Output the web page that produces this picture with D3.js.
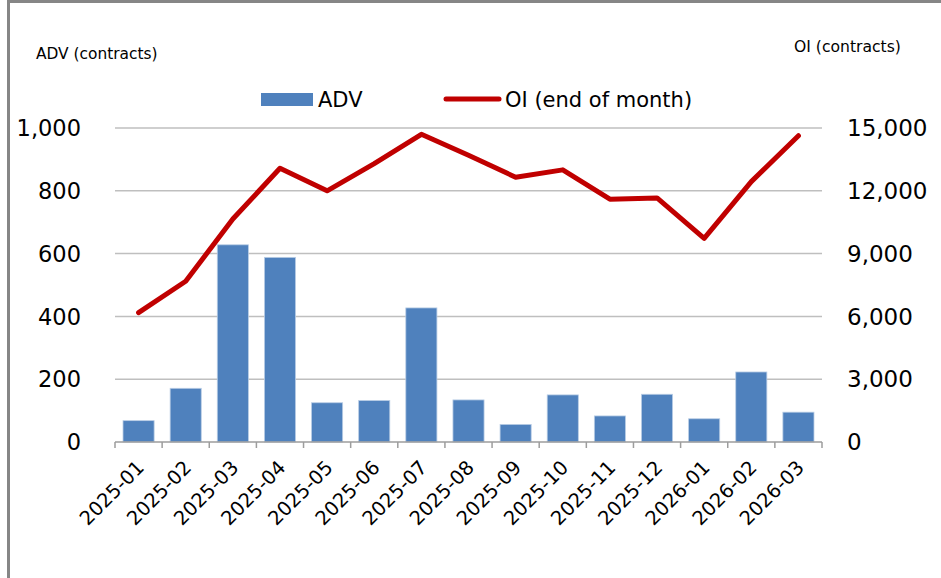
<!DOCTYPE html>
<html>
<head>
<meta charset="utf-8">
<script src="https://cdn.jsdelivr.net/npm/d3@7"></script>
<style>
  html, body { margin: 0; padding: 0; background: #fff; }
  svg { display: block; font-family: "DejaVu Sans", Verdana, sans-serif; }
</style>
</head>
<body>
<svg id="chart" width="941" height="578"></svg>
<script>
// Monthly average daily volume and end-of-month open interest
const months = ["2025-01","2025-02","2025-03","2025-04","2025-05","2025-06","2025-07","2025-08",
                "2025-09","2025-10","2025-11","2025-12","2026-01","2026-02","2026-03"];
const adv = [68, 171, 628, 588, 125, 132, 427, 134, 56, 150, 83, 152, 74, 223, 95];
const oi  = [6180, 7680, 10650, 13080, 12000, 13300, 14700, 13700, 12650, 13000, 11600, 11660, 9730, 12440, 14630];
const advTicks = [0, 200, 400, 600, 800, 1000];
const oiTicks  = [0, 3000, 6000, 9000, 12000, 15000];

const svg = d3.select("#chart");
const W = 941, H = 578;
const plot = { left: 115, right: 822, top: 128, bottom: 442 };

const x = d3.scaleBand().domain(months).range([plot.left, plot.right]).paddingInner(0.34).paddingOuter(0.17);
const xb = d3.scaleBand().domain(months).range([plot.left, plot.right]);
const yL = d3.scaleLinear().domain([0, 1000]).range([plot.bottom, plot.top]);
const yR = d3.scaleLinear().domain([0, 15000]).range([plot.bottom, plot.top]);
const fmt = d3.format(",");

// outer frame (top and left edges)
svg.append("line").attr("x1", 8.5).attr("x2", 8.5).attr("y1", 0).attr("y2", H)
  .attr("stroke", "#868686").attr("stroke-width", 3);
svg.append("line").attr("x1", 7).attr("x2", W).attr("y1", 1.5).attr("y2", 1.5)
  .attr("stroke", "#868686").attr("stroke-width", 3);

// gridlines
svg.append("g").selectAll("line").data(advTicks.filter(d => d > 0)).join("line")
  .attr("x1", plot.left).attr("x2", plot.right)
  .attr("y1", d => yL(d)).attr("y2", d => yL(d))
  .attr("stroke", "#bfbfbf").attr("stroke-width", 1.5);

// bars
svg.append("g").selectAll("rect").data(adv).join("rect")
  .attr("x", (d, i) => x(months[i]))
  .attr("width", x.bandwidth())
  .attr("y", d => yL(d))
  .attr("height", d => yL(0) - yL(d))
  .attr("fill", "#4f81bd")
  .attr("stroke", "#b9cde5").attr("stroke-width", 0.8);

// x axis
const xAxis = svg.append("g");
xAxis.append("line").attr("x1", plot.left).attr("x2", plot.right)
  .attr("y1", plot.bottom).attr("y2", plot.bottom)
  .attr("stroke", "#9d9d9d").attr("stroke-width", 1.5);
const bounds = months.map(m => xb(m)).concat([plot.right]);
xAxis.selectAll("line.tick").data(bounds).join("line").attr("class", "tick")
  .attr("x1", d => d).attr("x2", d => d)
  .attr("y1", plot.bottom).attr("y2", plot.bottom + 6)
  .attr("stroke", "#9d9d9d").attr("stroke-width", 1.5);
xAxis.selectAll("text").data(months).join("text")
  .attr("transform", d => `translate(${xb(d) + xb.bandwidth() / 2 + 2},${plot.bottom + 22}) rotate(-45)`)
  .attr("text-anchor", "end")
  .attr("dy", "0.35em")
  .attr("font-size", 19.5)
  .attr("fill", "#000")
  .text(d => d);

// left axis labels
svg.append("g").selectAll("text").data(advTicks).join("text")
  .attr("x", 81).attr("y", d => yL(d)).attr("dy", "0.36em")
  .attr("text-anchor", "end").attr("font-size", 22.5).attr("fill", "#000")
  .text(d => fmt(d));

// right axis labels
svg.append("g").selectAll("text").data(oiTicks).join("text")
  .attr("x", 847).attr("y", d => yR(d)).attr("dy", "0.36em")
  .attr("text-anchor", "start").attr("font-size", 23).attr("fill", "#000")
  .text(d => fmt(d));

// OI line
const line = d3.line().x((d, i) => xb(months[i]) + xb.bandwidth() / 2).y(d => yR(d));
svg.append("path").datum(oi).attr("d", line)
  .attr("fill", "none").attr("stroke", "#c00000").attr("stroke-width", 5)
  .attr("stroke-linejoin", "round").attr("stroke-linecap", "round");

// axis titles
svg.append("text").attr("x", 36).attr("y", 59).attr("font-size", 15.4).attr("fill", "#000")
  .text("ADV (contracts)");
svg.append("text").attr("x", 794).attr("y", 52).attr("font-size", 15.6).attr("fill", "#000")
  .text("OI (contracts)");

// legend
const lg = svg.append("g");
lg.append("rect").attr("x", 261).attr("y", 93).attr("width", 52).attr("height", 13).attr("fill", "#4f81bd");
lg.append("text").attr("x", 318).attr("y", 99).attr("dy", "0.36em").attr("font-size", 21).attr("fill", "#000").text("ADV");
lg.append("line").attr("x1", 446).attr("x2", 499).attr("y1", 99).attr("y2", 99)
  .attr("stroke", "#c00000").attr("stroke-width", 5).attr("stroke-linecap", "round");
lg.append("text").attr("x", 505).attr("y", 99).attr("dy", "0.36em").attr("font-size", 21).attr("fill", "#000").text("OI (end of month)");
</script>
</body>
</html>
